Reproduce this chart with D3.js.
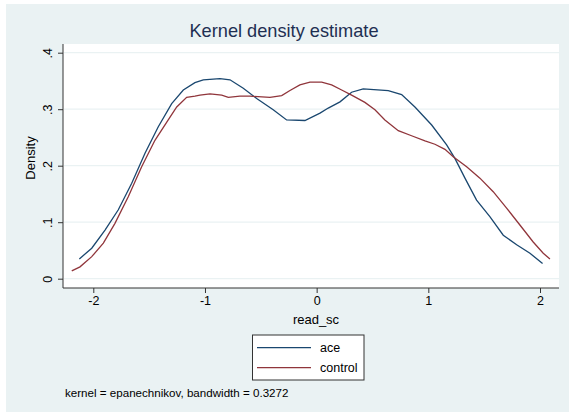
<!DOCTYPE html>
<html>
<head>
<meta charset="utf-8">
<script src="https://cdn.jsdelivr.net/npm/d3@7"></script>
<style>
  body { margin: 0; background: #fff; }
  text { font-family: 'Liberation Sans', Arial, sans-serif; }
</style>
</head>
<body>
<script>
// density curves
const aceX = [-2.125, -2.014, -1.895, -1.776, -1.656, -1.537, -1.418, -1.298, -1.194, -1.09,
  -1.015, -0.866, -0.776, -0.657, -0.537, -0.389, -0.269, -0.105, 0.03, 0.104, 0.209, 0.313,
  0.417, 0.641, 0.761, 0.88, 1.03, 1.164, 1.238, 1.328, 1.432, 1.551, 1.671, 1.791, 1.91, 2.023];
const aceY = [0.035, 0.054, 0.086, 0.122, 0.169, 0.222, 0.269, 0.31, 0.334, 0.347,
  0.352, 0.354, 0.352, 0.337, 0.319, 0.299, 0.281, 0.28, 0.293, 0.302, 0.313, 0.33,
  0.336, 0.333, 0.326, 0.304, 0.272, 0.237, 0.213, 0.178, 0.139, 0.11, 0.077, 0.06, 0.045, 0.027];

const controlX = [-2.193, -2.119, -2.014, -1.91, -1.806, -1.687, -1.567, -1.448, -1.329, -1.253,
  -1.164, -1.09, -1.045, -0.955, -0.85, -0.791, -0.687, -0.597, -0.418, -0.313, -0.239, -0.15,
  -0.06, 0.045, 0.134, 0.224, 0.313, 0.432, 0.522, 0.611, 0.731, 0.85, 0.97, 1.059, 1.149,
  1.223, 1.343, 1.462, 1.581, 1.701, 1.82, 1.939, 2.029, 2.089];
const controlY = [0.014, 0.021, 0.039, 0.063, 0.098, 0.145, 0.198, 0.245, 0.281, 0.304,
  0.321, 0.323, 0.325, 0.327, 0.325, 0.321, 0.323, 0.323, 0.321, 0.324, 0.333, 0.343,
  0.348, 0.348, 0.343, 0.334, 0.325, 0.312, 0.299, 0.281, 0.262, 0.253, 0.244, 0.238, 0.229,
  0.216, 0.198, 0.178, 0.154, 0.125, 0.095, 0.065, 0.045, 0.035];

const xTicks = [-2, -1, 0, 1, 2];
const yTicks = [0, 0.1, 0.2, 0.3, 0.4];
const yTickLabels = ['0', '.1', '.2', '.3', '.4'];
const seriesNames = ['ace', 'control'];
const seriesColors = ['#1a476f', '#90353b'];

const width = 573;
const height = 415;

const svg = d3.select('body')
  .append('svg')
  .attr('width', width)
  .attr('height', height);

// graph region background
svg.append('rect')
  .attr('x', 6).attr('y', 4)
  .attr('width', 563).attr('height', 408)
  .attr('fill', '#eaf2f3');

// plot region
const plot = { left: 63, right: 559, top: 44, bottom: 288 };
svg.append('rect')
  .attr('x', plot.left).attr('y', plot.top)
  .attr('width', plot.right - plot.left)
  .attr('height', plot.bottom - plot.top)
  .attr('fill', '#fff');

const x = d3.scaleLinear().domain([-2, 2]).range([93.3, 540]);
const y = d3.scaleLinear().domain([0, 0.4]).range([278.7, 52.7]);

// gridlines
svg.append('g')
  .selectAll('line')
  .data(yTicks)
  .join('line')
  .attr('x1', plot.left + 1)
  .attr('x2', plot.right)
  .attr('y1', d => y(d))
  .attr('y2', d => y(d))
  .attr('stroke', '#eaf2f3')
  .attr('stroke-width', 1.2);

// axes
const xAxis = d3.axisBottom(x)
  .tickValues(xTicks)
  .tickFormat(d => String(d))
  .tickSize(5)
  .tickPadding(3);
const gx = svg.append('g')
  .attr('transform', `translate(0,${plot.bottom})`)
  .call(xAxis);
gx.select('.domain').attr('d', `M${plot.left},0H${plot.right}`);

const yAxis = d3.axisLeft(y)
  .tickValues(yTicks)
  .tickFormat((d, i) => yTickLabels[i])
  .tickSize(5)
  .tickPadding(0);
const gy = svg.append('g')
  .attr('transform', `translate(${plot.left},0)`)
  .call(yAxis);
gy.select('.domain').attr('d', `M0,${plot.top}V${plot.bottom}`);
gy.selectAll('.tick text')
  .attr('x', 0)
  .attr('dy', 0)
  .attr('text-anchor', 'middle')
  .attr('transform', 'translate(-11,0) rotate(-90)');

svg.selectAll('.domain').attr('stroke', '#333').attr('stroke-width', 1);
svg.selectAll('.tick line').attr('stroke', '#333');
svg.selectAll('.tick text')
  .attr('fill', '#000')
  .style('font-size', '12.5px')
  .style('font-family', "'Liberation Sans', Arial, sans-serif");

// curves
const data = [
  aceX.map((d, i) => [d, aceY[i]]),
  controlX.map((d, i) => [d, controlY[i]])
];
const line = d3.line().x(d => x(d[0])).y(d => y(d[1]));
svg.append('g')
  .selectAll('path')
  .data(data)
  .join('path')
  .attr('d', line)
  .attr('fill', 'none')
  .attr('stroke', (d, i) => seriesColors[i])
  .attr('stroke-width', 1.3);

// titles
svg.append('text')
  .attr('x', 284).attr('y', 37)
  .attr('text-anchor', 'middle')
  .attr('fill', '#1e2f52')
  .style('font-size', '18.2px')
  .text('Kernel density estimate');

svg.append('text')
  .attr('x', 316).attr('y', 324)
  .attr('text-anchor', 'middle')
  .style('font-size', '13px')
  .text('read_sc');

svg.append('text')
  .attr('transform', 'translate(35,158) rotate(-90)')
  .attr('text-anchor', 'middle')
  .style('font-size', '13px')
  .text('Density');

// legend
const legend = svg.append('g');
legend.append('rect')
  .attr('x', 252.5).attr('y', 335)
  .attr('width', 111.5).attr('height', 45)
  .attr('fill', '#fff')
  .attr('stroke', '#333')
  .attr('stroke-width', 1);
const items = legend.selectAll('g.item')
  .data(seriesNames)
  .join('g')
  .attr('class', 'item')
  .attr('transform', (d, i) => `translate(0,${347.7 + i * 20})`);
items.append('line')
  .attr('x1', 257).attr('x2', 311)
  .attr('stroke', (d, i) => seriesColors[i])
  .attr('stroke-width', 1.3);
items.append('text')
  .attr('x', 320).attr('y', 4.5)
  .style('font-size', '12.5px')
  .text(d => d);

// note
svg.append('text')
  .attr('x', 65).attr('y', 397)
  .style('font-size', '11.6px')
  .text('kernel = epanechnikov, bandwidth = 0.3272');
</script>
</body>
</html>
